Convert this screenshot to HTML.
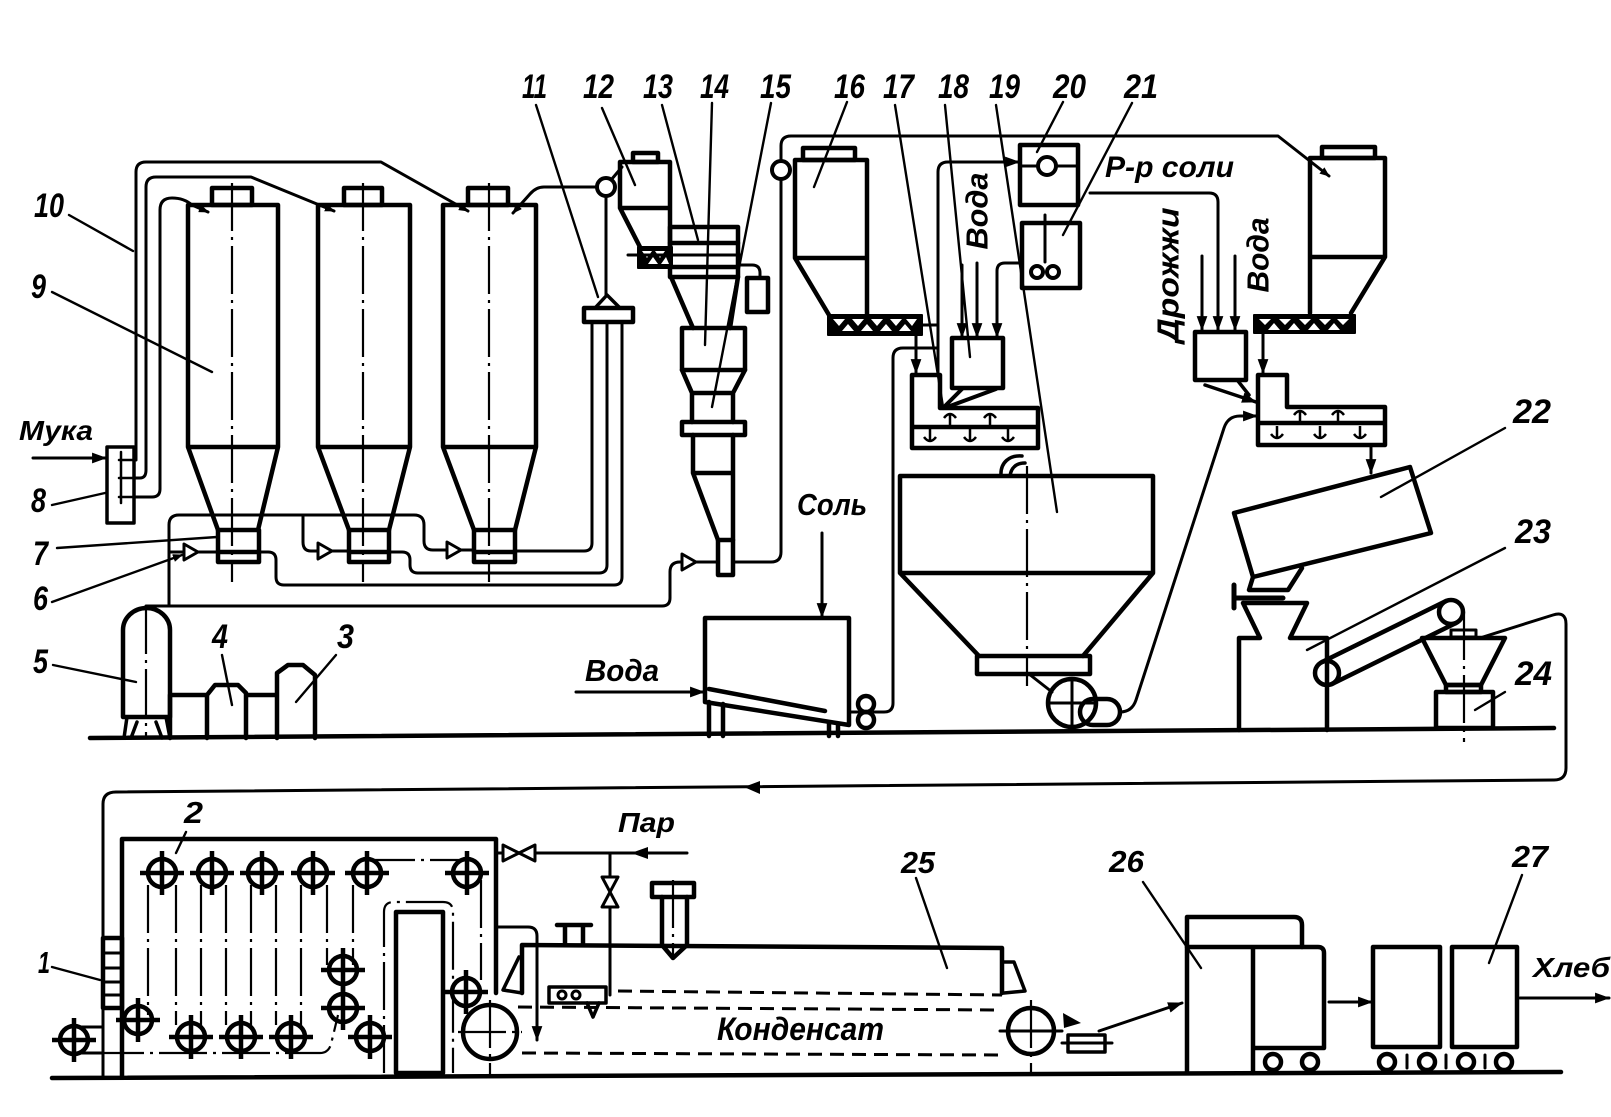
<!DOCTYPE html>
<html><head><meta charset="utf-8"><style>
html,body{margin:0;padding:0;background:#fff;}
svg{display:block;}
text{font-family:"Liberation Sans","DejaVu Sans",sans-serif;font-weight:bold;font-style:italic;fill:#000;stroke:none;}
</style></head><body>
<svg width="1611" height="1117" viewBox="0 0 1611 1117" xmlns="http://www.w3.org/2000/svg">
<defs>
<marker id="a" viewBox="0 0 14 10" refX="13" refY="5" markerWidth="15" markerHeight="11" markerUnits="userSpaceOnUse" orient="auto"><path d="M0,0 L14,5 L0,10 z" fill="#000"/></marker>
<marker id="s" viewBox="0 0 10 8" refX="9" refY="4" markerWidth="10" markerHeight="8" markerUnits="userSpaceOnUse" orient="auto"><path d="M0,0 L10,4 L0,8 z" fill="#000"/></marker>
<g id="sp" fill="none" stroke="#000" stroke-width="4.5"><circle r="14"/><path d="M-22,0H22M0,-22V22"/></g>
<g id="up" fill="none" stroke="#000" stroke-width="2.5"><path d="M0,8 V-4 M-6,0 Q0,-8 6,0"/></g>
<g id="dn" fill="none" stroke="#000" stroke-width="2.5"><path d="M0,-8 V5 M-6,0 Q0,8 6,0"/></g>
</defs>
<rect width="1611" height="1117" fill="#fff"/>

<!-- ===== thick equipment ===== -->
<g fill="none" stroke="#000" stroke-width="4.5" stroke-linejoin="round" stroke-linecap="round">
<!-- silos 9 -->
<path d="M188,205 H278 V447 L258,530 M188,205 V447 L218,530 M188,447 H278"/>
<rect x="212" y="188" width="40" height="17"/>
<rect x="218" y="530" width="41" height="32"/><path d="M218,552 H259"/>
<path d="M318,205 H410 V447 L389,530 M318,205 V447 L349,530 M318,447 H410"/>
<rect x="344" y="188" width="38" height="17"/>
<rect x="349" y="530" width="40" height="32"/><path d="M349,552 H389"/>
<path d="M443,205 H536 V447 L515,530 M443,205 V447 L474,530 M443,447 H536"/>
<rect x="468" y="188" width="40" height="17"/>
<rect x="474" y="530" width="41" height="32"/><path d="M474,552 H515"/>
<!-- box 8 -->
<rect x="107" y="447" width="27" height="76" stroke-width="3.5"/>
<!-- receiver 5 -->
<path d="M123,717 V630 A23.5,22 0 0 1 170,630 V717 Z"/>
<path d="M127,717 L124,738 M166,717 L170,738 M137,722 L131,738 M156,722 L162,738" stroke-width="3.5"/>
<!-- 4 and 3 -->
<path d="M170,738 V695 H207 M207,738 V695 L215,685 H238 L246,693 V738 M246,695 H277 V738 M277,738 V673 L288,665 H303 L315,675 V738"/>
<!-- floor -->
<path d="M90,738 L1554,728"/>
<path d="M52,1078 L1561,1072"/>
<!-- flange 11 -->
<rect x="584" y="308" width="49" height="14"/>
<path d="M607,295 L595,308 H620 Z" stroke-width="3.5"/>
<!-- hopper 12 -->
<path d="M620,208 V162 H670 V247 M620,208 H670 M620,208 L640,247"/>
<rect x="633" y="153" width="25" height="9"/>
<!-- 13 -->
<rect x="670" y="227" width="68" height="50"/>
<path d="M670,243 H738 M670,267 H738"/>
<!-- 14 / 15 -->
<path d="M671,277 L693,328 M738,277 L730,328"/>
<rect x="682" y="328" width="63" height="42"/>
<path d="M682,370 L692,393 V422 M745,370 L733,393 V422 M692,393 H733"/>
<rect x="682" y="422" width="63" height="13"/>
<path d="M693,435 V473 L718,540 M733,435 V540 M693,473 H733"/>
<rect x="718" y="540" width="15" height="35"/>
<rect x="747" y="278" width="21" height="34"/>
<!-- silo 16 -->
<path d="M795,160 H867 V315 M795,160 V258 L829,315 M795,258 H867"/>
<rect x="803" y="148" width="52" height="12"/>
<!-- boxes 20 21 18 -->
<rect x="1020" y="145" width="58" height="60"/>
<rect x="1022" y="223" width="58" height="65"/>
<rect x="952" y="338" width="51" height="50"/>
<path d="M962,389 L943,408 M996,389 L950,406" stroke-width="4"/>
<!-- mixer 17 -->
<path d="M912,375 H940 V408 H1038 V448 H912 Z M912,427 H1038"/>
<!-- tank 19 -->
<path d="M900,476 H1153 V573 H900 Z M900,573 L979,656 M1153,573 L1083,656"/>
<rect x="977" y="656" width="113" height="18"/>
<circle cx="1072" cy="703" r="24"/>
<rect x="1080" y="699" width="40" height="26" rx="13"/>
<!-- salt tank -->
<path d="M705,618 H849 V725 L705,702 Z M709,689 L825,711"/>
<path d="M709,702 V736 M723,704 V736 M829,723 V736 M838,724 V736"/>
<circle cx="866" cy="704" r="8"/><circle cx="866" cy="720" r="8"/>
<!-- right silo -->
<path d="M1310,158 H1385 V257 L1351,313 M1310,158 V313 M1310,257 H1385"/>
<rect x="1322" y="147" width="53" height="11"/>
<rect x="1195" y="332" width="51" height="48"/>
<path d="M1258,375 H1287 V407 H1385 V445 H1258 Z M1258,423 H1385"/>
<!-- mixer 22 -->
<path d="M1234,513 L1410,467 L1431,533 L1253,577 Z M1253,577 L1249,590 H1288 L1302,568"/>
<!-- divider 23 -->
<path d="M1234,585 V608 M1234,598 H1283" stroke-width="5"/>
<path d="M1243,603 H1307 L1290,638 H1327 V730 M1243,603 L1260,638 H1239 V730"/>
<circle cx="1327" cy="673" r="12"/><circle cx="1451" cy="612" r="12"/>
<path d="M1322,662 L1446,601 M1332,684 L1456,623"/>
<!-- rounder 24 -->
<rect x="1451" y="630" width="25" height="7" stroke-width="3"/>
<path d="M1422,638 H1505 L1481,685 H1446 Z"/>
<rect x="1446" y="685" width="35" height="7"/>
<rect x="1436" y="692" width="57" height="36"/>
<!-- proofer 2 -->
<path d="M122,1077 V839 H496 V993"/>
<rect x="103" y="938" width="19" height="70"/>
<path d="M103,953 H122 M103,968 H122 M103,982 H122 M103,995 H122" stroke-width="3"/>
<rect x="396" y="912" width="47" height="161"/>
<!-- oven 25 -->
<path d="M522,993 V945 L1002,948 V993"/>
<path d="M519,957 L503,990 L522,993 M1004,962 H1014 L1025,991 L1004,993" stroke-width="3.5"/>
<rect x="652" y="883" width="42" height="14"/>
<path d="M662,897 V945 L673,958 L687,945 V897"/>
<path d="M557,925 H591 M565,925 V945 M583,925 V945"/>
<rect x="549" y="987" width="57" height="16" stroke-width="3.5"/>
<path d="M587,1003 L593,1017 L599,1003" stroke-width="3.5"/>
<circle cx="490" cy="1032" r="27"/>
<circle cx="1031" cy="1031" r="23"/>
<rect x="1068" y="1035" width="37" height="17" stroke-width="3.5"/>
<!-- cooler 26 and carts -->
<path d="M1187,1073 V917 H1294 Q1302,917 1302,925 V947"/>
<path d="M1187,947 H1318 Q1324,947 1324,953 V1048 H1253 M1253,947 V1073"/>
<rect x="1373" y="947" width="67" height="100"/>
<rect x="1452" y="947" width="65" height="100"/>
<circle cx="1273" cy="1062" r="8"/><circle cx="1310" cy="1062" r="8"/>
<circle cx="1387" cy="1062" r="8"/><circle cx="1427" cy="1062" r="8"/>
<circle cx="1466" cy="1062" r="8"/><circle cx="1504" cy="1062" r="8"/>
<path d="M1407,1055 V1068 M1446,1055 V1068 M1485,1055 V1068" stroke-width="3"/>
</g>

<!-- screws: black with white wedges -->
<g stroke="#000" stroke-width="2" stroke-linejoin="round">
<rect x="638" y="247" width="34" height="21" fill="#000"/>
<path d="M642,251 H652 L647,258 Z M655,251 H665 L660,258 Z M648,264 L653,257 L658,264 Z M661,264 L666,257 L669,264 Z" fill="#fff" stroke="none"/>
<rect x="828" y="315" width="94" height="20" fill="#000"/>
<path d="M833,319 H845 L839,326 Z M852,319 H864 L858,326 Z M871,319 H883 L877,326 Z M890,319 H902 L896,326 Z M906,319 H917 L912,326 Z M842,331 L848,324 L854,331 Z M861,331 L867,324 L873,331 Z M880,331 L886,324 L892,331 Z M899,331 L905,324 L911,331 Z" fill="#fff" stroke="none"/>
<rect x="1254" y="315" width="101" height="18" fill="#000"/>
<path d="M1259,319 H1271 L1265,325 Z M1279,319 H1291 L1285,325 Z M1299,319 H1311 L1305,325 Z M1319,319 H1331 L1325,325 Z M1337,319 H1349 L1343,325 Z M1268,330 L1274,323 L1280,330 Z M1288,330 L1294,323 L1300,330 Z M1308,330 L1314,323 L1320,330 Z M1328,330 L1334,323 L1340,330 Z" fill="#fff" stroke="none"/>
</g>

<!-- small circles (fans) -->
<g fill="#fff" stroke="#000" stroke-width="4">
<circle cx="606" cy="187" r="9"/>
<circle cx="781" cy="170" r="9"/>
<circle cx="1047" cy="166" r="9"/>
<circle cx="1037" cy="272" r="6"/><circle cx="1053" cy="272" r="6"/>
<circle cx="562" cy="995" r="4" stroke-width="3"/><circle cx="576" cy="995" r="4" stroke-width="3"/>
</g>

<!-- ===== pipes ===== -->
<g fill="none" stroke="#000" stroke-width="3" stroke-linejoin="round" stroke-linecap="round">
<path d="M136,460 V172 Q136,162 146,162 H381 L468,211" marker-end="url(#s)"/>
<path d="M134,478 H140 Q146,478 146,470 V187 Q146,177 156,177 H251 L334,211" marker-end="url(#s)"/>
<path d="M134,497 H152 Q160,497 160,489 V210 Q160,198 172,198 Q184,198 192,205 L208,212" marker-end="url(#s)"/>
<path d="M597,187 H544 Q536,187 530,194 L513,213" marker-end="url(#s)"/>
<path d="M121,452 V503 M119,460 H136 M119,478 H136 M119,497 H136" stroke-width="2.5"/>
<path d="M33,458 H106" marker-end="url(#a)"/>
<!-- air lines -->
<path d="M146,608 V606 H662 Q670,606 670,598 V572 Q670,562 680,562 H718"/>
<path d="M169,606 V525 Q169,515 179,515 H414 Q424,515 424,525 V541 Q424,550 433,550 H474"/>
<path d="M303,515 V542 Q303,551 311,551 H349"/>
<path d="M169,552 H218"/>
<!-- return lines -->
<path d="M259,552 H268 Q276,552 276,560 V577 Q276,585 284,585 H614 Q622,585 622,577 V322"/>
<path d="M389,552 H402 Q410,552 410,560 V565 Q410,573 418,573 H599 Q607,573 607,565 V322"/>
<path d="M515,551 H584 Q592,551 592,543 V322"/>
<path d="M606,196 V295"/>
<path d="M611,180 L622,167"/>
<path d="M628,255 H740"/>
<path d="M738,265 H752 Q760,265 760,273 V278"/>
<path d="M781,161 V146 Q781,136 791,136 H1278 L1329,176" marker-end="url(#s)"/>
<path d="M781,179 V552 Q781,562 771,562 H733"/>
<path d="M916,335 V373" marker-end="url(#a)"/>
<path d="M922,325 H938"/>
<path d="M849,712 H858 M874,712 H884 Q893,712 893,703 V358 Q893,348 903,348 H938"/>
<path d="M938,375 V172 Q938,162 948,162 H1019" marker-end="url(#a)"/>
<path d="M1020,166 H1038 M1056,166 H1078"/>
<path d="M1045,215 V262"/>
<path d="M1022,263 H1005 Q997,263 997,271 V337" marker-end="url(#a)"/>
<path d="M962,265 V337" marker-end="url(#a)"/>
<path d="M977,263 V337" marker-end="url(#a)"/>
<path d="M822,533 V617" marker-end="url(#a)"/>
<path d="M576,692 H704" marker-end="url(#a)"/>
<path d="M1001,476 C1000,462 1010,455 1022,456 M1010,476 C1011,468 1016,463 1025,463" stroke-width="3.5"/>
<path d="M1029,674 L1052,692"/>
<path d="M1048,703 H1096 M1072,679 V727"/>
<path d="M1120,712 Q1132,712 1136,700 L1224,428 Q1228,416 1240,416 H1257" marker-end="url(#a)"/>
<path d="M1090,193 H1209 Q1218,193 1218,202 V330" marker-end="url(#a)"/>
<path d="M1202,256 V330" marker-end="url(#a)"/>
<path d="M1235,256 V330" marker-end="url(#a)"/>
<path d="M1205,385 L1256,402" marker-end="url(#a)" stroke-width="3.5"/>
<path d="M1238,381 L1249,395" stroke-width="3.5"/>
<path d="M1263,333 V373" marker-end="url(#a)"/>
<path d="M1371,445 V473" marker-end="url(#a)"/>
<path d="M1483,637 L1553,615 Q1566,611 1566,624 V768 Q1566,780 1554,780 L116,792 Q103,792 103,804 V1077"/>
<!-- oven pipes -->
<path d="M687,853 H496"/>
<path d="M610,853 V995"/>
<path d="M496,927 H528 Q537,927 537,936 V1040" marker-end="url(#a)"/>
<path d="M74,1027 H103 M74,1053 H103"/>
<path d="M1062,1043 H1112"/>
<path d="M1099,1031 L1182,1003" marker-end="url(#a)"/>
<path d="M1000,1031 H1062"/>
<path d="M1329,1002 H1372" marker-end="url(#a)"/>
<path d="M1520,998 H1609" marker-end="url(#a)"/>
</g>

<!-- mixer internal arrows -->
<use href="#up" x="950" y="418"/><use href="#up" x="990" y="418"/>
<use href="#dn" x="930" y="437"/><use href="#dn" x="970" y="437"/><use href="#dn" x="1008" y="437"/>
<use href="#up" x="1300" y="415"/><use href="#up" x="1338" y="415"/>
<use href="#dn" x="1277" y="434"/><use href="#dn" x="1320" y="434"/><use href="#dn" x="1360" y="434"/>

<!-- arrow on return line, misc filled -->
<g fill="#000" stroke="none">
<polygon points="744,787 760,781 760,794"/>
<polygon points="631,853 648,847 648,859"/>
<polygon points="1063,1013 1081,1023 1064,1028"/>
</g>

<!-- valves / triangles -->
<g fill="#fff" stroke="#000" stroke-width="3" stroke-linejoin="round">
<polygon points="184,544 198,552 184,560"/>
<polygon points="318,543 332,551 318,559"/>
<polygon points="447,542 461,550 447,558"/>
<polygon points="682,554 696,562 682,570"/>
<path d="M503,845 L519,853 L503,861 Z M535,845 L519,853 L535,861 Z"/>
<path d="M602,877 L610,892 L618,877 Z M602,907 L610,892 L618,907 Z"/>
</g>

<!-- centerlines / dash-dot -->
<g fill="none" stroke="#000" stroke-width="2.2" stroke-dasharray="48 6 3 6">
<path d="M232,183 V582"/><path d="M363,183 V582"/><path d="M489,183 V582"/>
<path d="M146,606 V736"/>
<path d="M1027,466 V686"/>
<path d="M1464,612 V742"/>
<path d="M673,880 V960"/>
<path d="M490,1000 V1074"/>
<path d="M1031,1000 V1074"/>
<path d="M458,1032 H522"/>
<path d="M384,1073 V912 Q384,902 394,902 H443 Q453,902 453,912 V1073"/>
<path d="M148,885 V1015 M176,885 V1025 M201,885 V1025 M226,885 V1025 M251,885 V1025 M276,885 V1025 M301,885 V1025 M327,885 V965 M353,885 V965"/>
<path d="M96,1053 H320 Q330,1053 332,1040 L338,1015"/>
<path d="M367,860 H467 M481,880 V980"/>
</g>
<g fill="none" stroke="#000" stroke-width="3" stroke-dasharray="14 8">
<path d="M618,991 L1002,995"/>
<path d="M518,1007 L1002,1010"/>
<path d="M522,1053 L1000,1055"/>
</g>

<!-- sprockets -->
<use href="#sp" x="162" y="873"/><use href="#sp" x="212" y="873"/><use href="#sp" x="262" y="873"/>
<use href="#sp" x="313" y="873"/><use href="#sp" x="367" y="873"/><use href="#sp" x="467" y="873"/>
<use href="#sp" x="138" y="1020"/><use href="#sp" x="191" y="1037"/><use href="#sp" x="241" y="1037"/>
<use href="#sp" x="291" y="1037"/><use href="#sp" x="343" y="970"/><use href="#sp" x="343" y="1008"/>
<use href="#sp" x="370" y="1037"/><use href="#sp" x="466" y="992"/><use href="#sp" x="74" y="1040"/>

<!-- leaders -->
<g stroke="#000" stroke-width="2.4" stroke-linecap="round" fill="none">
<path d="M69,215 L133,251"/>
<path d="M52,292 L212,372"/>
<path d="M52,505 L105,493"/>
<path d="M57,548 L217,537"/>
<path d="M52,602 L182,555" marker-end="url(#s)"/>
<path d="M53,665 L136,682"/>
<path d="M222,655 L232,705"/>
<path d="M336,655 L296,702"/>
<path d="M536,105 L598,297"/>
<path d="M602,108 L635,185"/>
<path d="M662,105 L698,240"/>
<path d="M712,103 L705,345"/>
<path d="M771,103 L712,407"/>
<path d="M847,102 L814,187"/>
<path d="M895,105 L943,407"/>
<path d="M945,105 L970,357"/>
<path d="M996,105 L1057,512"/>
<path d="M1063,102 L1037,152"/>
<path d="M1132,103 L1063,235"/>
<path d="M1505,428 L1381,497"/>
<path d="M1505,548 L1307,650"/>
<path d="M1505,692 L1475,710"/>
<path d="M186,832 L176,853"/>
<path d="M52,967 L100,980"/>
<path d="M916,878 L947,968"/>
<path d="M1143,882 L1201,968"/>
<path d="M1522,875 L1489,963"/>
</g>

<!-- number labels -->
<g font-size="34">
<text x="34" y="217" textLength="30" lengthAdjust="spacingAndGlyphs">10</text>
<text x="31" y="298" textLength="15" lengthAdjust="spacingAndGlyphs">9</text>
<text x="31" y="512" textLength="15" lengthAdjust="spacingAndGlyphs">8</text>
<text x="33" y="565" textLength="15" lengthAdjust="spacingAndGlyphs">7</text>
<text x="33" y="610" textLength="15" lengthAdjust="spacingAndGlyphs">6</text>
<text x="33" y="673" textLength="15" lengthAdjust="spacingAndGlyphs">5</text>
<text x="212" y="648" textLength="16" lengthAdjust="spacingAndGlyphs">4</text>
<text x="337" y="648" textLength="17" lengthAdjust="spacingAndGlyphs">3</text>
<text x="522" y="98" textLength="25" lengthAdjust="spacingAndGlyphs">11</text>
<text x="583" y="98" textLength="31" lengthAdjust="spacingAndGlyphs">12</text>
<text x="643" y="98" textLength="30" lengthAdjust="spacingAndGlyphs">13</text>
<text x="700" y="98" textLength="29" lengthAdjust="spacingAndGlyphs">14</text>
<text x="760" y="98" textLength="31" lengthAdjust="spacingAndGlyphs">15</text>
<text x="834" y="98" textLength="31" lengthAdjust="spacingAndGlyphs">16</text>
<text x="883" y="98" textLength="31" lengthAdjust="spacingAndGlyphs">17</text>
<text x="938" y="98" textLength="31" lengthAdjust="spacingAndGlyphs">18</text>
<text x="989" y="98" textLength="31" lengthAdjust="spacingAndGlyphs">19</text>
<text x="1053" y="98" textLength="33" lengthAdjust="spacingAndGlyphs">20</text>
<text x="1124" y="98" textLength="34" lengthAdjust="spacingAndGlyphs">21</text>
<text x="1513" y="423" textLength="38" lengthAdjust="spacingAndGlyphs">22</text>
<text x="1515" y="543" textLength="36" lengthAdjust="spacingAndGlyphs">23</text>
<text x="1515" y="685" textLength="37" lengthAdjust="spacingAndGlyphs">24</text>
</g>
<g font-size="31">
<text x="184" y="823" textLength="19" lengthAdjust="spacingAndGlyphs">2</text>
<text x="38" y="973" textLength="12" lengthAdjust="spacingAndGlyphs">1</text>
<text x="901" y="873" textLength="34" lengthAdjust="spacingAndGlyphs">25</text>
<text x="1109" y="872" textLength="35" lengthAdjust="spacingAndGlyphs">26</text>
<text x="1512" y="867" textLength="36" lengthAdjust="spacingAndGlyphs">27</text>
</g>

<!-- word labels -->
<text x="19" y="440" font-size="28" textLength="74" lengthAdjust="spacingAndGlyphs">Мука</text>
<text x="797" y="515" font-size="31" textLength="70" lengthAdjust="spacingAndGlyphs">Соль</text>
<text x="585" y="681" font-size="31" textLength="74" lengthAdjust="spacingAndGlyphs">Вода</text>
<text x="618" y="832" font-size="28" textLength="57" lengthAdjust="spacingAndGlyphs">Пар</text>
<text x="717" y="1040" font-size="32" textLength="167" lengthAdjust="spacingAndGlyphs">Конденсат</text>
<text x="1533" y="977" font-size="28" textLength="77" lengthAdjust="spacingAndGlyphs">Хлеб</text>
<text x="1105" y="177" font-size="30" textLength="129" lengthAdjust="spacingAndGlyphs">Р-р соли</text>
<text transform="translate(977,211) rotate(-90)" text-anchor="middle" dominant-baseline="central" font-size="31" textLength="77" lengthAdjust="spacingAndGlyphs">Вода</text>
<text transform="translate(1168,275) rotate(-90)" text-anchor="middle" dominant-baseline="central" font-size="31" textLength="135" lengthAdjust="spacingAndGlyphs">Дрожжи</text>
<text transform="translate(1258,255) rotate(-90)" text-anchor="middle" dominant-baseline="central" font-size="31" textLength="75" lengthAdjust="spacingAndGlyphs">Вода</text>
</svg>
</body></html>
